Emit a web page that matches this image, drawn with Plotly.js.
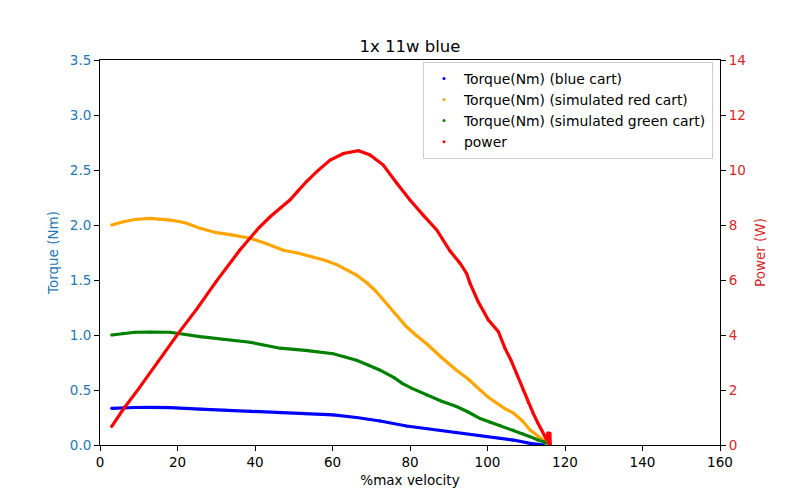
<!DOCTYPE html>
<html>
<head>
<meta charset="utf-8">
<script src="https://cdn.plot.ly/plotly-3.0.1.min.js"></script>
<style>html,body{margin:0;padding:0;background:#fff}#chart{width:800px;height:500px}</style>
</head>
<body>
<div id="chart"></div>
<script>
// %max velocity and torque (Nm) for each cart
var blueX   = [3, 6, 9, 12.9, 18.1, 25.8, 32, 38.7, 46.5, 53, 60.2, 66.2, 72.3, 79.1, 84.3, 92, 98.1, 103.2, 106.7, 111, 113, 114.4];
var blueT   = [0.333, 0.338, 0.341, 0.342, 0.34, 0.327, 0.318, 0.309, 0.294, 0.285, 0.273, 0.25, 0.218, 0.173, 0.15, 0.115, 0.083, 0.062, 0.045, 0.015, 0.006, 0.0];

var redX    = [3, 6, 9, 12.9, 18.1, 22, 25.8, 30.1, 34, 38.7, 43, 47.3, 51, 55, 58, 61.1, 64, 66.2, 69, 71, 73.1, 76, 79.1, 81.5, 84.3, 88, 92, 95, 98.1, 100, 102.4, 104.5, 106.7, 109, 111, 113, 114.4, 115.3];
var redT    = [2.0, 2.03, 2.05, 2.06, 2.045, 2.02, 1.97, 1.93, 1.91, 1.88, 1.83, 1.77, 1.745, 1.71, 1.68, 1.64, 1.59, 1.545, 1.47, 1.405, 1.32, 1.2, 1.075, 1.0, 0.92, 0.8, 0.68, 0.6, 0.5, 0.44, 0.38, 0.33, 0.29, 0.22, 0.136, 0.08, 0.045, 0.02];

var greenX  = [3, 6, 9, 12.9, 18.1, 25.8, 32, 38.7, 46.5, 53, 60.2, 63, 66.2, 69, 72.3, 76, 78, 80.5, 84.3, 88, 92, 95, 98.1, 100.5, 103.2, 106.7, 109, 111, 113, 114.4, 115];
var greenT  = [1.0, 1.015, 1.025, 1.027, 1.025, 0.985, 0.96, 0.934, 0.88, 0.86, 0.83, 0.805, 0.77, 0.73, 0.68, 0.61, 0.56, 0.515, 0.455, 0.4, 0.35, 0.3, 0.24, 0.21, 0.18, 0.136, 0.105, 0.076, 0.045, 0.03, 0.015];

// power (W)
var powerX  = [3, 6, 10, 15, 20.2, 25, 30, 36.1, 38.7, 41, 43.9, 46.5, 49, 51, 53.3, 56, 59.4, 62.8, 66.7, 69.7, 73.1, 76.6, 80, 83.4, 86.9, 90.3, 92.9, 94.6, 95.5, 97.6, 100.2, 102.8, 104.5, 106, 107.5, 109.2, 110.5, 111.8, 113, 114, 114.8, 115.3, 115.6, 115.8, 116.1, 116.2];
var powerW  = [0.67, 1.3, 2.05, 3.05, 4.06, 4.95, 5.95, 7.09, 7.52, 7.9, 8.3, 8.62, 8.91, 9.22, 9.58, 9.95, 10.36, 10.6, 10.7, 10.55, 10.18, 9.52, 8.91, 8.36, 7.82, 7.06, 6.61, 6.24, 5.88, 5.21, 4.55, 4.12, 3.52, 3.1, 2.6, 2.0, 1.55, 1.15, 0.8, 0.55, 0.35, 0.18, 0.45, 0.05, 0.44, 0.0];

var xTicks = [0, 20, 40, 60, 80, 100, 120, 140, 160];
var yTicks = [0, 0.5, 1.0, 1.5, 2.0, 2.5, 3.0, 3.5];
var y2Ticks = [0, 2, 4, 6, 8, 10, 12, 14];

var series = [
  {x: blueX, y: blueT, name: 'Torque(Nm) (blue cart)', color: 'blue', axis: 'y'},
  {x: redX, y: redT, name: 'Torque(Nm) (simulated red cart)', color: 'orange', axis: 'y'},
  {x: greenX, y: greenT, name: 'Torque(Nm) (simulated green cart)', color: 'green', axis: 'y'},
  {x: powerX, y: powerW, name: 'power', color: 'red', axis: 'y2'}
];

var traces = [];
series.forEach(function(s, i){
  traces.push({x: s.x, y: s.y, yaxis: s.axis, mode: 'lines', type: 'scatter',
    line: {color: s.color, width: 3.2}, showlegend: false, legendgroup: 'g'+i, hoverinfo: 'skip'});
  traces.push({x: s.x, y: s.y, yaxis: s.axis, mode: 'markers', type: 'scatter', name: s.name,
    marker: {color: s.color, size: 3}, showlegend: true, legendgroup: 'g'+i});
});

var font = {family: 'DejaVu Sans, sans-serif', size: 13.5, color: '#000'};
var layout = {
  width: 800, height: 500,
  margin: {l: 100, r: 80, t: 60, b: 55},
  paper_bgcolor: '#fff', plot_bgcolor: '#fff',
  font: font,
  title: {text: '1x 11w blue', x: 0.5, xref: 'paper', xanchor: 'center', y: 0.908, yref: 'container', yanchor: 'middle',
    font: {family: 'DejaVu Sans, sans-serif', size: 16.5, color: '#000'}},
  showlegend: true,
  legend: {x: 0.9887, xanchor: 'right', y: 0.995, yanchor: 'top', bgcolor: 'rgba(255,255,255,0.8)',
    bordercolor: '#cccccc', borderwidth: 1, font: {family: 'DejaVu Sans, sans-serif', size: 13.9, color: '#000'},
    tracegroupgap: 0, itemwidth: 30},
  xaxis: {range: [0, 160], tickvals: xTicks, ticktext: xTicks.map(String), showgrid: false, zeroline: false,
    showline: true, linecolor: '#000', linewidth: 1, mirror: true, ticks: 'outside', ticklen: 5, tickcolor: '#000',
    tickfont: font, title: {text: '%max velocity', font: font, standoff: 6}},
  yaxis: {range: [0, 3.5], tickvals: yTicks, ticktext: yTicks.map(function(v){return v.toFixed(1);}), showgrid: false, zeroline: false,
    showline: true, linecolor: '#000', linewidth: 1, mirror: true, ticks: 'outside', ticklen: 5, tickcolor: '#000',
    tickfont: {family: 'DejaVu Sans, sans-serif', size: 13.5, color: '#1f77b4'},
    title: {text: 'Torque (Nm)', font: {family: 'DejaVu Sans, sans-serif', size: 13.5, color: '#1f77b4'}, standoff: 8}},
  yaxis2: {range: [0, 14], tickvals: y2Ticks, ticktext: y2Ticks.map(String), overlaying: 'y', side: 'right', showgrid: false, zeroline: false,
    showline: true, linecolor: '#000', linewidth: 1, ticks: 'outside', ticklen: 5, tickcolor: '#000',
    tickfont: {family: 'DejaVu Sans, sans-serif', size: 13.5, color: '#d62728'},
    title: {text: 'Power (W)', font: {family: 'DejaVu Sans, sans-serif', size: 13.5, color: '#d62728'}, standoff: 10}}
};

Plotly.newPlot('chart', traces, layout, {displayModeBar: false, staticPlot: true});
</script>
</body>
</html>
